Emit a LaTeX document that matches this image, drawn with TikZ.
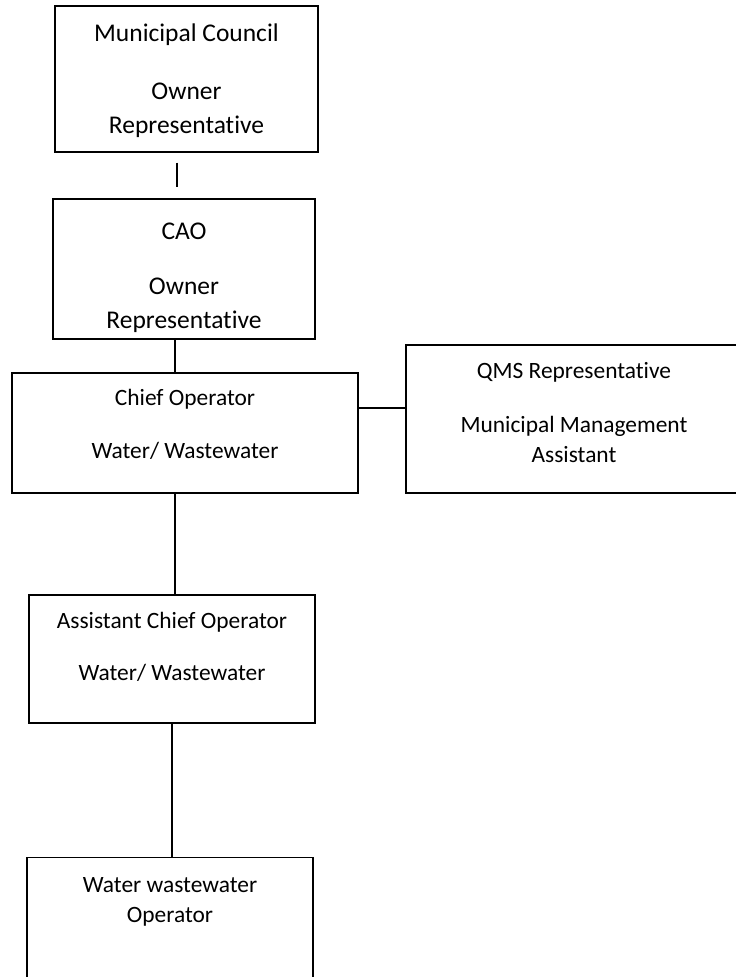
\documentclass[tikz,border=0pt]{standalone}
\usepackage{fontspec}
\setmainfont{Carlito}[Ligatures=NoCommon]
\usepackage{tikz}

\tikzset{
  orgbox/.style={draw, line width=1.3pt, align=center, inner sep=0pt},
  bigtext/.style={font=\fontsize{25.5}{34}\selectfont},
  smalltext/.style={font=\fontsize{23.4}{30}\selectfont},
  link/.style={line width=1.3pt}
}

\begin{document}
\begin{tikzpicture}[x=1pt,y=-1pt]
\useasboundingbox (0,0) rectangle (736,977);
\clip (0,0) rectangle (736,977);
% boxes
\node[orgbox,bigtext,minimum width=263pt,minimum height=146pt,text depth=0pt] (council) at (186.5,79) {Municipal Council\\[24pt]Owner\\Representative}; % Council
\node[orgbox,bigtext,minimum width=262pt,minimum height=140pt,text depth=0pt] (cao) at (184,269) {\rule{0pt}{30pt}CAO\\[21pt]Owner\\Representative}; % CAO
\node[orgbox,smalltext,minimum width=346pt,minimum height=120pt,text depth=18pt] (chief) at (185,433) {Chief Operator\\[23pt]Water/ Wastewater}; % Chief Operator
\node[orgbox,smalltext,minimum width=336pt,minimum height=148pt,text depth=14pt] (qms) at (574,419) {QMS Representative\\[24pt]Municipal Management\\Assistant}; % QMS
\node[orgbox,smalltext,minimum width=286pt,minimum height=128pt,text depth=26pt] (asst) at (172,659) {Assistant Chief Operator\\[22pt]Water/ Wastewater}; % Assistant
\node[orgbox,smalltext,minimum width=286pt,text depth=110pt,inner ysep=20pt,anchor=north] (oper) at (170,857) {Water wastewater\\Operator}; % Operator
% lines
\draw[link,shorten <=10pt,shorten >=11pt] ([xshift=-9.5pt]council.south) -- ([xshift=-9.5pt]council.south |- cao.north);
\draw[link] ([xshift=-9pt]cao.south) -- ([xshift=-9pt]cao.south |- chief.north);
\draw[link] ([xshift=-10pt]chief.south) -- ([xshift=-10pt]chief.south |- asst.north);
\draw[link] (asst.south) -- (asst.south |- oper.north);
\draw[link] ([yshift=25pt]chief.east) -- ([yshift=25pt]chief.east -| qms.west);
\end{tikzpicture}
\end{document}
